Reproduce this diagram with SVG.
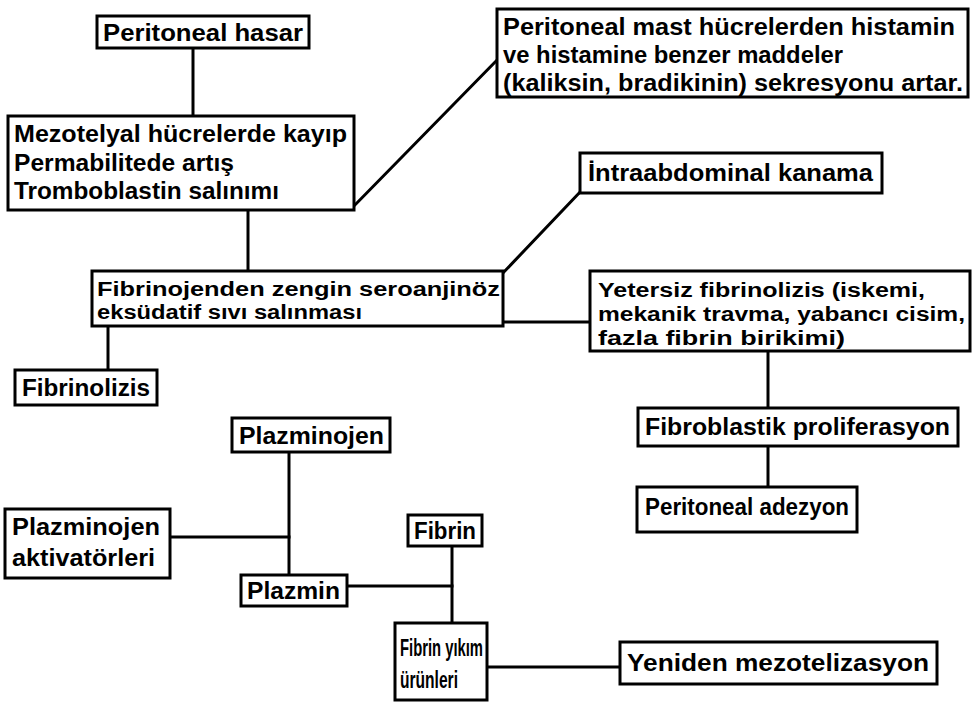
<svg xmlns="http://www.w3.org/2000/svg" width="973" height="702" viewBox="0 0 973 702">
<style>
rect.b{fill:#fff;stroke:#000;stroke-width:3}
text{font-family:"Liberation Sans",Arial,sans-serif;font-weight:bold;font-size:23px;fill:#000}
text.t{font-size:20px}
#connectors line{stroke:#000;stroke-width:3;stroke-linecap:square}
</style>
<rect width="973" height="702" fill="#fff"/>
<g id="connectors">
<line x1="193" y1="48" x2="193" y2="116"/>
<line x1="353" y1="207" x2="497" y2="60"/>
<line x1="248" y1="210" x2="248" y2="271"/>
<line x1="503" y1="273" x2="580" y2="192"/>
<line x1="503" y1="322" x2="590" y2="322"/>
<line x1="768" y1="351" x2="768" y2="408"/>
<line x1="768" y1="446" x2="768" y2="487"/>
<line x1="108" y1="326" x2="108" y2="370"/>
<line x1="289" y1="452" x2="289" y2="575"/>
<line x1="170" y1="537" x2="289" y2="537"/>
<line x1="347" y1="586" x2="452" y2="586"/>
<line x1="452" y1="546" x2="452" y2="623"/>
<line x1="487" y1="667" x2="620" y2="667"/>
</g>
<g id="n-hasar"><rect class="b" x="97" y="16" width="212" height="32"/><text x="103" y="41" textLength="200" lengthAdjust="spacingAndGlyphs">Peritoneal hasar</text></g>
<g id="n-mezotel"><rect class="b" x="8" y="116" width="346" height="94"/>
<text x="14" y="142" textLength="333" lengthAdjust="spacingAndGlyphs">Mezotelyal hücrelerde kayıp</text>
<text x="14" y="171" textLength="220" lengthAdjust="spacingAndGlyphs">Permabilitede artış</text>
<text x="14" y="199" textLength="265" lengthAdjust="spacingAndGlyphs">Tromboblastin salınımı</text></g>
<g id="n-mast"><rect class="b" x="497" y="9" width="471" height="88"/>
<text x="503" y="35" textLength="452" lengthAdjust="spacingAndGlyphs">Peritoneal mast hücrelerden histamin</text>
<text x="503" y="63" textLength="340" lengthAdjust="spacingAndGlyphs">ve histamine benzer maddeler</text>
<text x="503" y="91" textLength="460" lengthAdjust="spacingAndGlyphs">(kaliksin, bradikinin) sekresyonu artar.</text></g>
<g id="n-intra"><rect class="b" x="580" y="153" width="302" height="40"/><text x="588" y="181" textLength="285" lengthAdjust="spacingAndGlyphs">İntraabdominal kanama</text></g>
<g id="n-fibrinojen"><rect class="b" x="92" y="271" width="411" height="55"/>
<text class="t" x="97" y="296" textLength="403" lengthAdjust="spacingAndGlyphs">Fibrinojenden zengin seroanjinöz</text>
<text class="t" x="97" y="319" textLength="265" lengthAdjust="spacingAndGlyphs">eksüdatif sıvı salınması</text></g>
<g id="n-yetersiz"><rect class="b" x="590" y="271" width="380" height="80"/>
<text class="t" x="598" y="297" textLength="327" lengthAdjust="spacingAndGlyphs">Yetersiz fibrinolizis (iskemi,</text>
<text class="t" x="598" y="321" textLength="367" lengthAdjust="spacingAndGlyphs">mekanik travma, yabancı cisim,</text>
<text class="t" x="598" y="345" textLength="247" lengthAdjust="spacingAndGlyphs">fazla fibrin birikimi)</text></g>
<g id="n-fibroblastik"><rect class="b" x="638" y="408" width="320" height="38"/><text x="645" y="435" textLength="305" lengthAdjust="spacingAndGlyphs">Fibroblastik proliferasyon</text></g>
<g id="n-adezyon"><rect class="b" x="637" y="487" width="220" height="45"/><text x="645" y="515" textLength="204" lengthAdjust="spacingAndGlyphs">Peritoneal adezyon</text></g>
<g id="n-fibrinolizis"><rect class="b" x="15" y="370" width="142" height="35"/><text x="22" y="396" textLength="128" lengthAdjust="spacingAndGlyphs">Fibrinolizis</text></g>
<g id="n-plazminojen"><rect class="b" x="232" y="418" width="158" height="34"/><text x="239" y="444" textLength="145" lengthAdjust="spacingAndGlyphs">Plazminojen</text></g>
<g id="n-aktivator"><rect class="b" x="5" y="509" width="165" height="69"/>
<text x="12" y="535" textLength="148" lengthAdjust="spacingAndGlyphs">Plazminojen</text>
<text x="12" y="566" textLength="143" lengthAdjust="spacingAndGlyphs">aktivatörleri</text></g>
<g id="n-plazmin"><rect class="b" x="241" y="575" width="106" height="31"/><text x="247" y="599" textLength="93" lengthAdjust="spacingAndGlyphs">Plazmin</text></g>
<g id="n-fibrin"><rect class="b" x="408" y="515" width="74" height="31"/><text x="414" y="539" textLength="62" lengthAdjust="spacingAndGlyphs">Fibrin</text></g>
<g id="n-yikim"><rect class="b" x="395" y="623" width="92" height="77"/>
<text x="400" y="656" textLength="83" lengthAdjust="spacingAndGlyphs">Fibrin yıkım</text>
<text x="400" y="688" textLength="58" lengthAdjust="spacingAndGlyphs">ürünleri</text></g>
<g id="n-yeniden"><rect class="b" x="620" y="642" width="317" height="42"/><text x="627" y="671" textLength="302" lengthAdjust="spacingAndGlyphs">Yeniden mezotelizasyon</text></g>
</svg>
